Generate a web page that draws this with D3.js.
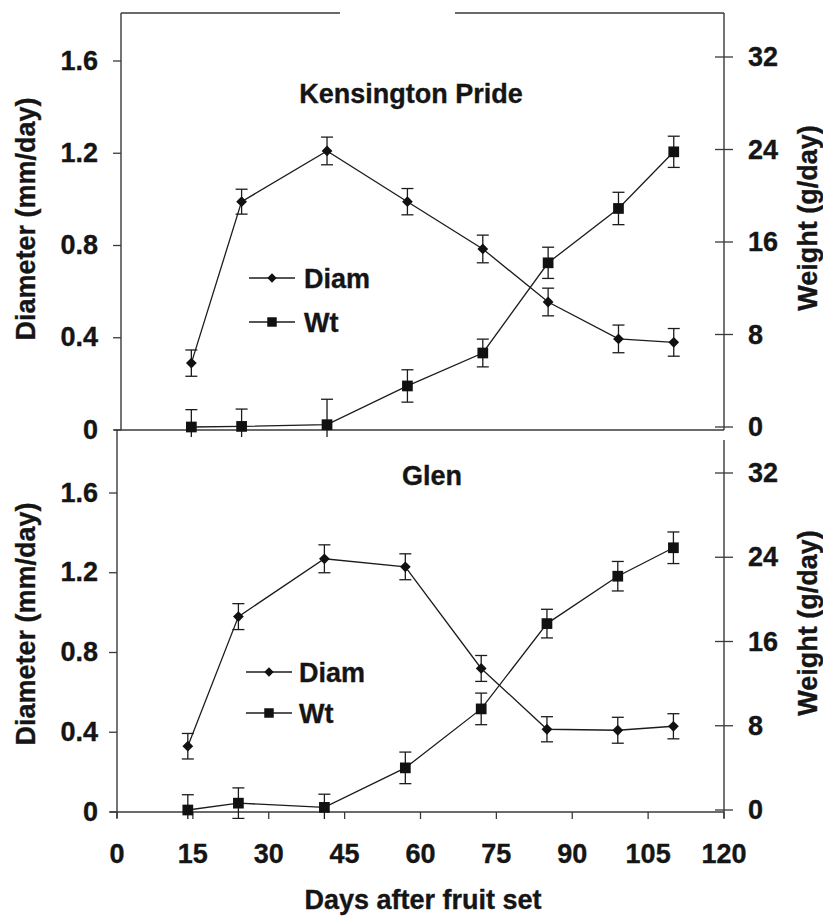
<!DOCTYPE html>
<html><head><meta charset="utf-8">
<script src="https://cdn.jsdelivr.net/npm/d3@7"></script>
<style>
body{margin:0;background:#fff}
svg{display:block}
text{font-family:"Liberation Sans",Arial,sans-serif;font-weight:bold;fill:#151515;stroke:#151515;stroke-width:0.35px}
</style>
</head><body>
<svg id="c" width="823" height="916"></svg>
<script>
// ---------- data ----------
const days = [14, 24, 41, 57, 72, 85, 99, 110];
const kpDiam = [0.29, 0.99, 1.21, 0.99, 0.785, 0.555, 0.395, 0.38];
const kpDiamErr = [0.057, 0.054, 0.06, 0.057, 0.06, 0.06, 0.06, 0.06];
const kpWt = [0, 0.05, 0.2, 3.55, 6.4, 14.2, 18.9, 23.8];
const kpWtErr = [1.5, 1.5, 2.2, 1.4, 1.2, 1.35, 1.4, 1.35];
const glenDiam = [0.33, 0.98, 1.27, 1.23, 0.72, 0.415, 0.41, 0.43];
const glenDiamErr = [0.064, 0.065, 0.07, 0.065, 0.065, 0.063, 0.065, 0.063];
const glenWt = [0, 0.65, 0.25, 4.0, 9.6, 17.7, 22.2, 24.9];
const glenWtErr = [1.45, 1.45, 1.25, 1.5, 1.5, 1.36, 1.4, 1.5];
const xTicks = [0, 15, 30, 45, 60, 75, 90, 105, 120];
const diamTicks = [0, 0.4, 0.8, 1.2, 1.6];
const wtTicks = [0, 8, 16, 24, 32];
const seriesNames = ["Diam", "Wt"];
const panelTitles = ["Kensington Pride", "Glen"];
const xTitle = "Days after fruit set";
const yLeftTitle = "Diameter (mm/day)";
const yRightTitle = "Weight (g/day)";

// ---------- layout ----------
const panels = [
  {title: panelTitles[0], diam: kpDiam, diamErr: kpDiamErr, wt: kpWt, wtErr: kpWtErr,
   xL: 121, xR: 724, top: 13, base: 430, yL: [430, 61], yR: [427, 57],
   tX: 411, tY: 103, legX: [249, 295], legY: [278, 322], legT: 304, ytY: 219, rAxisTop: 13},
  {title: panelTitles[1], diam: glenDiam, diamErr: glenDiamErr, wt: glenWt, wtErr: glenWtErr,
   xL: 117, xR: 724, top: 430, base: 812, yL: [812, 493], yR: [810, 473],
   tX: 432, tY: 485, legX: [246, 292], legY: [672, 713], legT: 299, ytY: 624, rAxisTop: 440}
];

const svg = d3.select("#c");
const FS = 27;
const axisCol = "#3a3a3a", lineCol = "#1c1c1c";

const diamondSym = d3.symbol().type(d3.symbolSquare).size(58);
const diamondLeg = d3.symbol().type(d3.symbolSquare).size(44);
const squareSym = d3.symbol().type(d3.symbolSquare).size(115);
const squareLeg = d3.symbol().type(d3.symbolSquare).size(90);

panels.forEach((p, pi) => {
  const g = svg.append("g");
  const x = d3.scaleLinear().domain([0, 120]).range([p.xL, p.xR]);
  const yL = d3.scaleLinear().domain([0, 1.6]).range(p.yL);
  const yR = d3.scaleLinear().domain([0, 32]).range(p.yR);

  const cid = "clip" + pi;
  svg.append("clipPath").attr("id", cid).append("rect")
    .attr("x", 0).attr("y", p.top).attr("width", 823).attr("height", p.base - p.top + 7);

  if (pi === 0) {
    g.append("path").attr("d", `M${p.xL},${p.top}H340M455,${p.top}H${p.xR}`)
      .attr("stroke", axisCol).attr("stroke-width", 1.4).attr("fill", "none");
  }
  // left axis
  g.append("line").attr("x1", p.xL).attr("x2", p.xL).attr("y1", p.top).attr("y2", pi === 1 ? p.base + 6 : p.base)
    .attr("stroke", axisCol).attr("stroke-width", 1.4);
  g.selectAll(".lt").data(diamTicks).enter().append("line")
    .attr("x1", p.xL - 8).attr("x2", p.xL).attr("y1", d => yL(d)).attr("y2", d => yL(d))
    .attr("stroke", axisCol).attr("stroke-width", 1.3);
  g.selectAll(".ll").data(diamTicks).enter().append("text")
    .attr("x", 98).attr("y", d => yL(d) + 8.5).attr("text-anchor", "end").attr("font-size", FS)
    .text(d => d === 0 ? "0" : d.toFixed(1));

  // right axis
  g.append("line").attr("x1", p.xR).attr("x2", p.xR).attr("y1", p.rAxisTop).attr("y2", pi === 1 ? p.base + 6 : p.base)
    .attr("stroke", axisCol).attr("stroke-width", 1.4);
  g.selectAll(".rt").data(wtTicks).enter().append("line")
    .attr("x1", p.xR - 9).attr("x2", p.xR + 9).attr("y1", d => yR(d)).attr("y2", d => yR(d))
    .attr("stroke", axisCol).attr("stroke-width", 1.3);
  g.selectAll(".rl").data(wtTicks).enter().append("text")
    .attr("x", p.xR + 24).attr("y", d => yR(d) + 9).attr("font-size", FS)
    .text(d => d);

  // x axis line
  g.append("line").attr("x1", p.xL - 7).attr("x2", p.xR).attr("y1", p.base).attr("y2", p.base)
    .attr("stroke", axisCol).attr("stroke-width", 1.4);

  if (pi === 1) {
    g.selectAll(".xt").data(xTicks).enter().append("line")
      .attr("x1", d => x(d)).attr("x2", d => x(d)).attr("y1", p.base).attr("y2", p.base + 7)
      .attr("stroke", axisCol).attr("stroke-width", 1.3);
    g.selectAll(".xl").data(xTicks).enter().append("text")
      .attr("x", d => x(d)).attr("y", 863).attr("text-anchor", "middle").attr("font-size", FS)
      .text(d => d);
    svg.append("text").attr("x", 423).attr("y", 909).attr("text-anchor", "middle")
      .attr("font-size", FS).text(xTitle);
  }

  // axis titles
  g.append("text").attr("transform", `translate(35,${p.ytY}) rotate(-90)`)
    .attr("text-anchor", "middle").attr("font-size", FS).text(yLeftTitle);
  g.append("text").attr("transform", `translate(817,${p.ytY - 1}) rotate(-90)`)
    .attr("text-anchor", "middle").attr("font-size", FS).text(yRightTitle);

  // panel title
  g.append("text").attr("x", p.tX).attr("y", p.tY).attr("text-anchor", "middle")
    .attr("font-size", FS).text(p.title);

  // error bars
  const eb = g.append("g").attr("clip-path", `url(#${cid})`)
    .attr("stroke", lineCol).attr("stroke-width", 1.3).attr("fill", "none");
  const drawErr = (vals, errs, ys) => {
    vals.forEach((v, i) => {
      const cx = x(days[i]);
      const y1 = ys(v - errs[i]), y2 = ys(v + errs[i]);
      eb.append("line").attr("x1", cx).attr("x2", cx).attr("y1", y1).attr("y2", y2);
      eb.append("line").attr("x1", cx - 6).attr("x2", cx + 6).attr("y1", y1).attr("y2", y1);
      eb.append("line").attr("x1", cx - 6).attr("x2", cx + 6).attr("y1", y2).attr("y2", y2);
    });
  };
  drawErr(p.diam, p.diamErr, yL);
  drawErr(p.wt, p.wtErr, yR);

  // lines
  const lineL = d3.line().x((d, i) => x(days[i])).y(d => yL(d));
  const lineR = d3.line().x((d, i) => x(days[i])).y(d => yR(d));
  g.append("path").attr("d", lineL(p.diam)).attr("fill", "none").attr("stroke", lineCol).attr("stroke-width", 1.3);
  g.append("path").attr("d", lineR(p.wt)).attr("fill", "none").attr("stroke", lineCol).attr("stroke-width", 1.3);

  // markers
  g.selectAll(".dm").data(p.diam).enter().append("path")
    .attr("d", diamondSym).attr("transform", (d, i) => `translate(${x(days[i])},${yL(d)}) rotate(45)`)
    .attr("fill", "#111");
  g.selectAll(".wm").data(p.wt).enter().append("path")
    .attr("d", squareSym).attr("transform", (d, i) => `translate(${x(days[i])},${yR(d)})`)
    .attr("fill", "#111");

  // legend
  seriesNames.forEach((nm, k) => {
    const ly = p.legY[k];
    g.append("line").attr("x1", p.legX[0]).attr("x2", p.legX[1]).attr("y1", ly).attr("y2", ly)
      .attr("stroke", lineCol).attr("stroke-width", 1.3);
    g.append("path").attr("d", k === 0 ? diamondLeg : squareLeg)
      .attr("transform", `translate(${(p.legX[0] + p.legX[1]) / 2},${ly})` + (k === 0 ? " rotate(45)" : ""))
      .attr("fill", "#111");
    g.append("text").attr("x", p.legT).attr("y", ly + 9.5).attr("font-size", FS).text(nm);
  });
});
</script>
</body></html>
